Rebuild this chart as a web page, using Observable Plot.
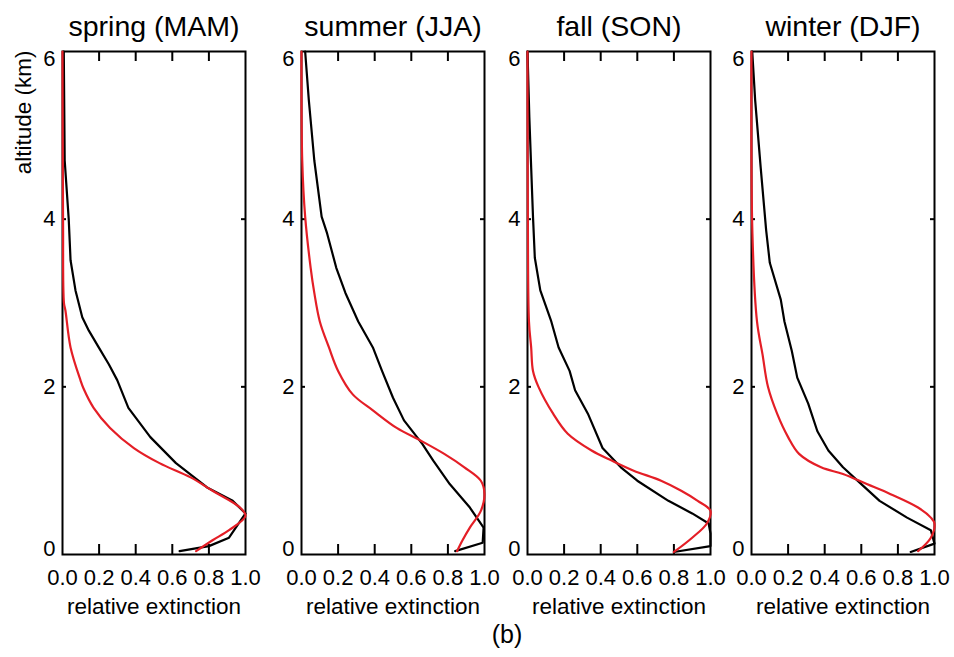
<!DOCTYPE html>
<html>
<head>
<meta charset="utf-8">
<script src="https://cdn.jsdelivr.net/npm/d3@7"></script>
<script src="https://cdn.jsdelivr.net/npm/@observablehq/plot@0.6"></script>
<style>
  body { margin: 0; background: #fff; }
  #chart { position: relative; width: 954px; height: 657px; font-family: "Liberation Sans", Arial, Helvetica, sans-serif; }
  #chart svg { position: absolute; overflow: visible; }
  #caption { position: absolute; left: 507px; top: 622px; transform: translateX(-50%); font-size: 25px; line-height: 1; color: #000; }
</style>
</head>
<body>
<div id="chart"><div id="caption">(b)</div></div>
<script>
// ---- data ----
const seasons = ["spring (MAM)", "summer (JJA)", "fall (SON)", "winter (DJF)"];
const xTickLabels = [0, 0.2, 0.4, 0.6, 0.8, 1.0];
const yTickLabels = [0, 2, 4, 6];

// black profiles (observed)
const springBlackAlt = [6.0, 4.7, 4.0, 3.51, 3.15, 2.83, 2.67, 2.47, 2.27, 2.08, 1.75, 1.40, 1.09, 0.80, 0.64, 0.49, 0.20, 0.10, 0.04];
const springBlackExt = [0.007, 0.012, 0.034, 0.044, 0.071, 0.108, 0.144, 0.198, 0.253, 0.299, 0.36, 0.48, 0.62, 0.79, 0.93, 1.0, 0.91, 0.80, 0.64];
const summerBlackAlt = [6.0, 5.42, 4.70, 4.03, 3.83, 3.42, 3.12, 2.78, 2.47, 2.19, 1.87, 1.60, 1.32, 1.12, 0.84, 0.56, 0.32, 0.14, 0.04];
const summerBlackExt = [0.02, 0.04, 0.07, 0.11, 0.14, 0.19, 0.24, 0.31, 0.39, 0.44, 0.50, 0.56, 0.66, 0.72, 0.81, 0.92, 0.995, 0.99, 0.84];
const fallBlackAlt = [6.0, 5.22, 4.62, 4.03, 3.54, 3.15, 2.78, 2.47, 2.19, 1.96, 1.68, 1.27, 1.04, 0.88, 0.64, 0.49, 0.37, 0.25, 0.10, 0.03];
const fallBlackExt = [0.0, 0.01, 0.02, 0.03, 0.04, 0.07, 0.13, 0.17, 0.23, 0.26, 0.33, 0.41, 0.51, 0.60, 0.77, 0.90, 0.99, 1.0, 1.0, 0.80];
const winterBlackAlt = [6.0, 5.42, 4.62, 3.87, 3.48, 3.04, 2.78, 2.43, 2.11, 1.80, 1.47, 1.24, 1.04, 0.84, 0.64, 0.44, 0.29, 0.13, 0.03];
const winterBlackExt = [0.004, 0.02, 0.05, 0.08, 0.10, 0.16, 0.18, 0.22, 0.25, 0.31, 0.36, 0.42, 0.50, 0.60, 0.70, 0.85, 0.98, 1.0, 0.87];

// red profiles (model)
const springRedAlt = [6.0, 4.0, 3.0, 2.91, 2.47, 2.08, 1.98, 1.75, 1.51, 1.27, 1.09, 0.92, 0.76, 0.56, 0.46, 0.29, 0.17, 0.04];
const springRedExt = [0.0, 0.003, 0.008, 0.016, 0.044, 0.098, 0.115, 0.17, 0.26, 0.39, 0.53, 0.70, 0.82, 0.97, 1.0, 0.91, 0.82, 0.73];
const summerRedAlt = [6.0, 4.70, 4.03, 3.42, 3.12, 2.78, 2.47, 2.19, 1.91, 1.72, 1.51, 1.36, 1.20, 1.04, 0.88, 0.72, 0.52, 0.32, 0.17, 0.04];
const summerRedExt = [0.0, 0.004, 0.02, 0.05, 0.07, 0.10, 0.15, 0.20, 0.28, 0.39, 0.52, 0.65, 0.78, 0.89, 0.98, 1.0, 0.98, 0.92, 0.88, 0.85];
const fallRedAlt = [6.0, 4.0, 2.78, 2.47, 2.19, 2.0, 1.68, 1.44, 1.24, 1.12, 1.0, 0.88, 0.76, 0.64, 0.52, 0.37, 0.20, 0.03];
const fallRedExt = [0.0, 0.002, 0.008, 0.02, 0.03, 0.06, 0.14, 0.22, 0.35, 0.46, 0.58, 0.73, 0.84, 0.93, 1.0, 0.98, 0.90, 0.80];
const winterRedAlt = [6.0, 3.83, 2.78, 2.39, 2.0, 1.68, 1.40, 1.20, 1.04, 0.96, 0.84, 0.72, 0.56, 0.44, 0.37, 0.20, 0.04];
const winterRedExt = [0.0, 0.005, 0.03, 0.06, 0.09, 0.14, 0.20, 0.26, 0.38, 0.50, 0.63, 0.76, 0.91, 0.98, 1.0, 0.98, 0.91];

const blackAlts = [springBlackAlt, summerBlackAlt, fallBlackAlt, winterBlackAlt];
const blackExts = [springBlackExt, summerBlackExt, fallBlackExt, winterBlackExt];
const redAlts = [springRedAlt, summerRedAlt, fallRedAlt, winterRedAlt];
const redExts = [springRedExt, summerRedExt, fallRedExt, winterRedExt];

// ---- layout ----
const frameLefts = [62, 301, 527, 751];
const W = 183, H = 503, FRAME_TOP = 51;
const RED = "#e41e26";
const font = '"Liberation Sans", Arial, Helvetica, sans-serif';
const chart = document.getElementById("chart");

function toRows(alts, exts) { return alts.map((a, j) => ({alt: a, ext: exts[j]})); }

seasons.forEach((title, i) => {
  const ml = i === 0 ? 62 : 45, mr = 8, mt = 50, mb = 70;
  const obs = toRows(blackAlts[i], blackExts[i]);
  const mod = toRows(redAlts[i], redExts[i]);
  const innerX = xTickLabels.filter(d => d > 0 && d < 1);
  const innerY = yTickLabels.filter(d => d > 0 && d < 6);
  const marks = [
    Plot.axisX(xTickLabels, {anchor: "bottom", tickSize: 0, tickPadding: 15, tickFormat: d => d.toFixed(1), fontSize: 22, label: null}),
    Plot.axisY(innerY, {anchor: "left", tickSize: 0, tickPadding: 7, tickFormat: d => String(d), fontSize: 22, label: null}),
    Plot.text([yTickLabels[0]], {y: d => d, frameAnchor: "left", dx: -7, dy: -6, textAnchor: "end", fontSize: 22}),
    Plot.text([yTickLabels[3]], {y: d => d, frameAnchor: "left", dx: -7, dy: 7, textAnchor: "end", fontSize: 22}),
    Plot.tickX(innerX, {x: d => d, insetTop: H - 10, stroke: "black", strokeWidth: 2}),
    Plot.tickX(innerX, {x: d => d, insetBottom: H - 10, stroke: "black", strokeWidth: 2}),
    Plot.tickY(innerY, {y: d => d, insetRight: W - 4, stroke: "black", strokeWidth: 2}),
    Plot.tickY(innerY, {y: d => d, insetLeft: W - 4, stroke: "black", strokeWidth: 2}),
    Plot.frame({stroke: "black", strokeWidth: 2}),
    Plot.line(obs, {x: "ext", y: "alt", stroke: "black", strokeWidth: 2.2}),
    Plot.line(mod, {x: "ext", y: "alt", stroke: RED, strokeWidth: 2.2, curve: "catmull-rom"}),
    Plot.text([title], {frameAnchor: "top", dy: -25, fontSize: 28.5, lineAnchor: "middle"}),
    Plot.text(["relative extinction"], {frameAnchor: "bottom", dy: 52, fontSize: 22.5, lineAnchor: "middle"})
  ];
  if (i === 0) {
    marks.push(Plot.text(["altitude (km)"], {frameAnchor: "top-left", dx: -39, dy: -1, rotate: -90, textAnchor: "end", lineAnchor: "middle", fontSize: 22.5}));
  }
  const svg = Plot.plot({
    width: ml + W + mr, height: mt + H + mb,
    marginLeft: ml, marginRight: mr, marginTop: mt, marginBottom: mb,
    x: {domain: [0, 1]},
    y: {domain: [0, 6]},
    style: {fontFamily: font, fontSize: "22px", color: "black", background: "transparent", overflow: "visible"},
    marks
  });
  svg.style.left = (frameLefts[i] - ml) + "px";
  svg.style.top = (FRAME_TOP - mt) + "px";
  chart.appendChild(svg);
});
</script>
</body>
</html>
